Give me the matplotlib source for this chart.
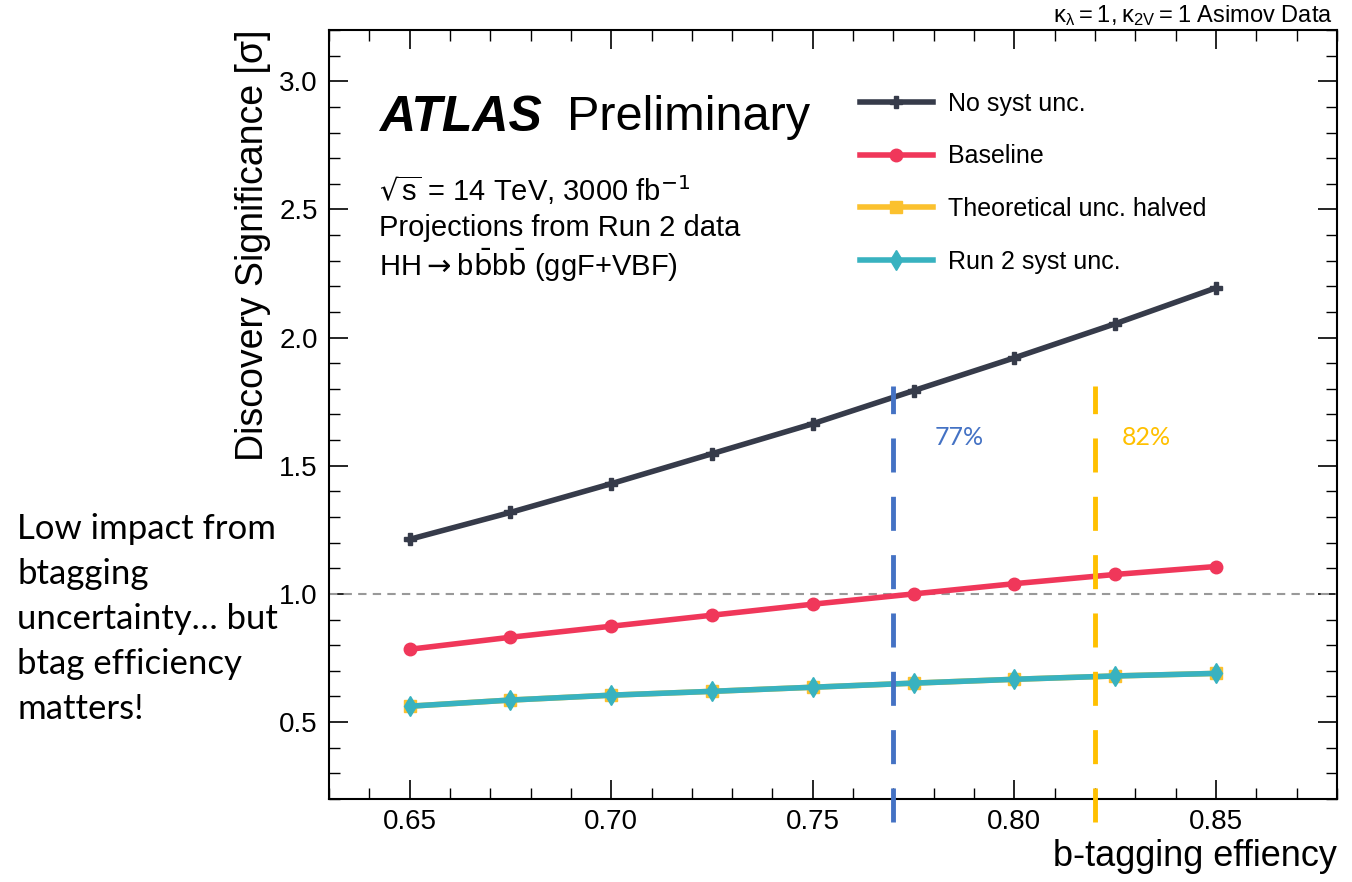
"""b-tagging 效率 vs 发现显著性 — ATLAS 风格折线图"""

import matplotlib
matplotlib.use('Agg')
import matplotlib.pyplot as plt
from matplotlib.ticker import MultipleLocator, FormatStrFormatter

plt.rcParams['font.family'] = ['Liberation Sans', 'DejaVu Sans']
plt.rcParams['mathtext.fontset'] = 'dejavusans'

# ===== 数据 =====
btag_eff = [0.65, 0.675, 0.70, 0.725, 0.75, 0.775, 0.80, 0.825, 0.85]
no_syst = [1.213, 1.318, 1.430, 1.547, 1.664, 1.793, 1.921, 2.054, 2.194]
baseline = [0.784, 0.831, 0.874, 0.917, 0.960, 1.000, 1.040, 1.076, 1.107]
theory_halved = [0.562, 0.586, 0.605, 0.620, 0.636, 0.652, 0.667, 0.680, 0.690]
run2_syst = [0.562, 0.586, 0.605, 0.620, 0.636, 0.652, 0.667, 0.680, 0.690]
series_labels = ['No syst unc.', 'Baseline', 'Theoretical unc. halved', 'Run 2 syst unc.']
wp_effs = [0.77, 0.82]
wp_labels = ['77%', '82%']

C_BLACK = '#363b4a'
C_RED = '#f0375a'
C_YELLOW = '#fbc12e'
C_CYAN = '#38b2c0'
C_WP = ['#4472c4', '#ffc000']

fig = plt.figure(figsize=(13.52, 8.82), dpi=100)
ax = fig.add_axes([0.2433, 0.0941, 0.7456, 0.8719])

ax.plot(btag_eff, no_syst, color=C_BLACK, lw=4, marker='P', ms=8, label=series_labels[0], zorder=5)
ax.plot(btag_eff, baseline, color=C_RED, lw=4, marker='o', ms=9, label=series_labels[1], zorder=5)
ax.plot(btag_eff, theory_halved, color=C_YELLOW, lw=4, marker='s', ms=8, label=series_labels[2], zorder=5)
ax.plot(btag_eff, run2_syst, color=C_CYAN, lw=4, marker='d', ms=10, label=series_labels[3], zorder=6)

# 1 sigma 参考线
ax.axhline(1.0, color='#999999', lw=1.5, ls=(0, (4, 3)), zorder=2)

# 工作点竖线（延伸到坐标轴下方）
label_dx = [0.0102, 0.0066]
for x, lab, c, dx in zip(wp_effs, wp_labels, C_WP, label_dx):
    ax.plot([x, x], [0.11, 1.812], color=c, lw=3.5, ls=(0, (7, 5)), clip_on=False, zorder=7)
    ax.text(x + dx, 1.61, lab, color=c, fontsize=18, family=['Lato', 'DejaVu Sans'],
            ha='left', va='center')

ax.set_xlim(0.63, 0.88)
ax.set_ylim(0.2, 3.2)
ax.xaxis.set_major_locator(MultipleLocator(0.05))
ax.xaxis.set_minor_locator(MultipleLocator(0.01))
ax.yaxis.set_major_locator(MultipleLocator(0.5))
ax.yaxis.set_minor_locator(MultipleLocator(0.1))
ax.set_yticks([0.5, 1.0, 1.5, 2.0, 2.5, 3.0])
ax.xaxis.set_major_formatter(FormatStrFormatter('%.2f'))
ax.tick_params(which='both', direction='in', top=True, right=True, labelsize=20)
ax.tick_params(which='major', length=14, width=1.2)
ax.tick_params(which='minor', length=8, width=1.0)
ax.tick_params(axis='y', pad=8)
ax.tick_params(axis='x', pad=7)
for sp in ax.spines.values():
    sp.set_linewidth(1.5)

ax.set_ylabel('Discovery Significance [σ]', fontsize=27, loc='top', labelpad=6)
ax.set_xlabel('b-tagging effiency', fontsize=26, loc='right', labelpad=3)

# ATLAS 标签
ax.text(0.05, 0.886, 'ATLAS', transform=ax.transAxes, fontsize=36, fontweight='bold',
        fontstyle='italic', va='center')
ax.text(0.236, 0.886, 'Preliminary', transform=ax.transAxes, fontsize=35, va='center')
ax.text(0.05, 0.792, '$\\sqrt{\\mathregular{s}}$ = 14 TeV, 3000 fb$^{-1}$', transform=ax.transAxes,
        fontsize=21, va='center')
ax.text(0.05, 0.743, 'Projections from Run 2 data', transform=ax.transAxes,
        fontsize=21, va='center')
ax.text(0.05, 0.694, 'HH$\\rightarrow$b$\\bar{\\mathrm{b}}$b$\\bar{\\mathrm{b}}$ (ggF+VBF)',
        transform=ax.transAxes, fontsize=21, va='center')

ax.text(0.996, 1.003, '$\\mathregular{κ_{λ} = 1, κ_{2V} = 1}$ Asimov Data', transform=ax.transAxes,
        fontsize=17, ha='right', va='bottom')

ax.legend(loc='upper left', bbox_to_anchor=(0.527, 0.92), frameon=False, fontsize=18,
          handlelength=2.9, handletextpad=0.6, labelspacing=1.15, borderaxespad=0, borderpad=0)

# 左侧注释
fig.text(0.0126, 0.418, 'Low impact from\nbtagging\nuncertainty\u2026 but\nbtag efficiency\nmatters!',
         fontsize=25, family=['Lato', 'DejaVu Sans'], va='top', ha='left', linespacing=1.5)

plt.savefig('out.png', dpi=100, facecolor='white')
plt.close()
